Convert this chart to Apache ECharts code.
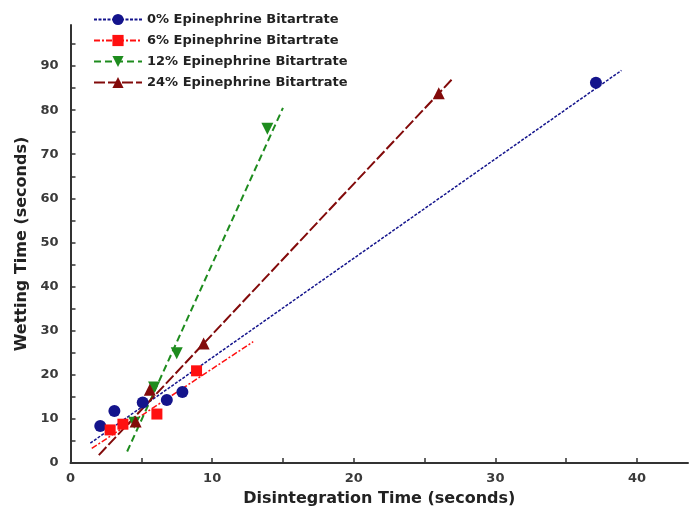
<!DOCTYPE html>
<html>
<head>
<meta charset="utf-8">
<script src="https://cdn.jsdelivr.net/npm/echarts@6/dist/echarts.min.js"></script>
<style>
  html, body { margin: 0; padding: 0; background: #fff; }
  #chart { width: 690px; height: 514px; }
</style>
</head>
<body>
<div id="chart"></div>
<script>
// legend names
const names = [
  "0% Epinephrine Bitartrate",
  "6% Epinephrine Bitartrate",
  "12% Epinephrine Bitartrate",
  "24% Epinephrine Bitartrate"
];

// measured points (disintegration time, wetting time)
const blueX = [2.1, 3.1, 5.1, 6.8, 7.9, 37.1];
const blueY = [8.4, 11.8, 13.7, 14.3, 16.1, 86.2];
const redX = [2.8, 3.7, 6.1, 8.9];
const redY = [7.5, 8.8, 11.1, 20.9];
const greenX = [4.5, 5.9, 7.5, 13.9];
const greenY = [9.1, 17.1, 24.9, 75.8];
const brownX = [4.6, 5.6, 9.4, 26.0];
const brownY = [9.4, 16.6, 27.1, 83.8];

// fitted line end points
const blueFitX = [1.4, 38.9];
const blueFitY = [4.5, 89.0];
const redFitX = [1.5, 12.9];
const redFitY = [3.3, 27.5];
const greenFitX = [4.0, 15.0];
const greenFitY = [2.6, 80.5];
const brownFitX = [2.0, 27.0];
const brownFitY = [1.8, 87.2];

// axis ticks
const xLabels = [0, 10, 20, 30, 40];
const xTicks = [0, 5, 10, 15, 20, 25, 30, 35, 40];
const yLabels = [0, 10, 20, 30, 40, 50, 60, 70, 80, 90];
const yTicks = [0, 5, 10, 15, 20, 25, 30, 35, 40, 45, 50, 55, 60, 65, 70, 75, 80, 85, 90, 95];

const zip = (xs, ys) => xs.map((x, i) => [x, ys[i]]);
const fitData = (xs, ys) => zip(xs, ys).map(p => ({ value: p, symbol: "none" }));

const groups = [
  { color: "#14148c", symbol: "circle", rotate: 0, size: 12, dash: [3, 1.5], width: 1.5,
    pts: zip(blueX, blueY), fit: fitData(blueFitX, blueFitY) },
  { color: "#ff1010", symbol: "rect", rotate: 0, size: 11, dash: [6, 2, 2, 2], width: 1.5,
    pts: zip(redX, redY), fit: fitData(redFitX, redFitY) },
  { color: "#1e8c1e", symbol: "triangle", rotate: 180, size: 12, dash: [7, 4], width: 2,
    pts: zip(greenX, greenY), fit: fitData(greenFitX, greenFitY) },
  { color: "#820a0a", symbol: "triangle", rotate: 0, size: 12, dash: [11, 3], width: 2,
    pts: zip(brownX, brownY), fit: fitData(brownFitX, brownFitY) }
];

const series = [];
groups.forEach((g, i) => {
  series.push({
    name: names[i],
    type: "line",
    data: g.fit,
    symbol: g.symbol,
    symbolRotate: g.rotate,
    symbolSize: g.size,
    itemStyle: { color: g.color },
    lineStyle: { color: g.color, width: g.width, type: g.dash },
    animation: false,
    z: 2
  });
});
groups.forEach((g, i) => {
  series.push({
    name: names[i],
    type: "scatter",
    data: g.pts,
    symbol: g.symbol,
    symbolRotate: g.rotate,
    symbolSize: g.size,
    itemStyle: { color: g.color, opacity: 1 },
    animation: false,
    z: 3
  });
});

const font = "DejaVu Sans, Verdana, sans-serif";
const axisText = { color: "#3a3a3a", fontWeight: "bold", fontSize: 13, fontFamily: font };
const nameText = { color: "#222", fontWeight: "bold", fontSize: 16, fontFamily: font };

const chart = echarts.init(document.getElementById("chart"));
chart.setOption({
  backgroundColor: "#fff",
  animation: false,
  grid: { left: 70.5, right: 2, top: 25, bottom: 51, containLabel: false },
  legend: {
    data: names,
    orient: "vertical",
    left: 88,
    top: 8,
    itemWidth: 48,
    itemHeight: 14,
    itemGap: 8,
    textStyle: { color: "#222", fontWeight: "bold", fontSize: 13, fontFamily: font }
  },
  xAxis: {
    type: "value",
    min: 0,
    max: 43.6,
    interval: 10,
    name: "Disintegration Time (seconds)",
    nameLocation: "middle",
    nameGap: 28,
    nameTextStyle: nameText,
    axisLine: { show: true, onZero: false, lineStyle: { color: "#333", width: 2 } },
    axisTick: { show: true, inside: true, length: 5, customValues: xTicks, lineStyle: { color: "#333", width: 1.5 } },
    axisLabel: Object.assign({ customValues: xLabels, margin: 9 }, axisText),
    splitLine: { show: false }
  },
  yAxis: {
    type: "value",
    min: 0,
    max: 99.3,
    interval: 10,
    name: "Wetting Time (seconds)",
    nameLocation: "middle",
    nameGap: 37,
    nameTextStyle: nameText,
    axisLine: { show: true, onZero: false, lineStyle: { color: "#333", width: 2 } },
    axisTick: { show: true, inside: true, length: 5, customValues: yTicks, lineStyle: { color: "#333", width: 1.5 } },
    axisLabel: Object.assign({ customValues: yLabels, margin: 12 }, axisText),
    splitLine: { show: false }
  },
  series: series
});
</script>
</body>
</html>
